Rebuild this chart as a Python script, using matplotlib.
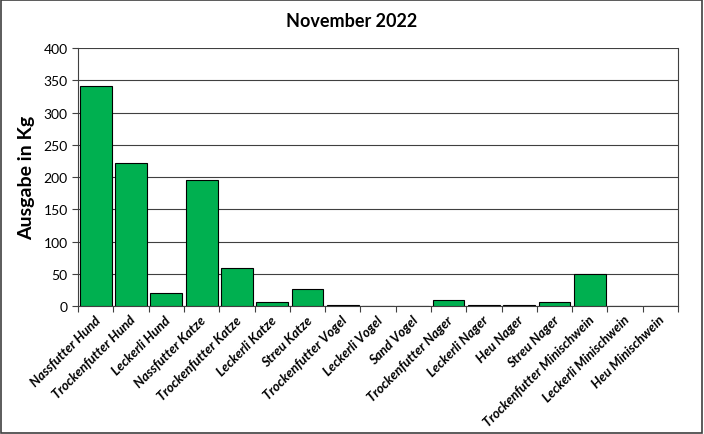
import numpy as np
import matplotlib.pyplot as plt

categories = ['Nassfutter Hund', 'Trockenfutter Hund', 'Leckerli Hund', 'Nassfutter Katze',
              'Trockenfutter Katze', 'Leckerli Katze', 'Streu Katze', 'Trockenfutter Vogel',
              'Leckerli Vogel', 'Sand Vogel', 'Trockenfutter Nager', 'Leckerli Nager',
              'Heu Nager', 'Streu Nager', 'Trockenfutter Minischwein', 'Leckerli Minischwein',
              'Heu Minischwein']
values = [341, 222, 21, 195, 59, 7, 27, 1, 0, 0, 9, 1, 1, 6, 50, 0, 0]
yticks = [0, 50, 100, 150, 200, 250, 300, 350, 400]

plt.rcParams['font.family'] = ['Lato', 'DejaVu Sans']

fig = plt.figure(figsize=(7.04, 4.35), dpi=100)
ax = fig.add_axes([0.111, 0.294, 0.852, 0.593])

x = np.arange(len(categories))
ax.bar(x, values, width=0.9, color='#00B050', edgecolor='black', linewidth=0.8, zorder=3)

ax.set_xlim(-0.5, len(categories) - 0.5)
ax.set_ylim(0, 400)
ax.set_yticks(yticks)
ax.tick_params(axis='y', labelsize=10, length=4, direction='out', color='#404040')
ax.yaxis.grid(True, color='#404040', linewidth=0.8, zorder=0)

ax.set_xticks(np.arange(-0.5, len(categories), 1.0))
ax.set_xticklabels([])
ax.tick_params(axis='x', length=4, direction='out', color='#404040')
for i, c in enumerate(categories):
    ax.text(i - 0.05, -11, c, rotation=45, ha='right', va='top', fontsize=9.5,
            fontweight='bold', fontstyle='italic', rotation_mode='anchor')

for s in ['left', 'bottom', 'right']:
    ax.spines[s].set_color('#404040')
ax.spines['top'].set_visible(False)

ax.set_ylabel('Ausgabe in Kg', fontsize=14, fontweight='bold', labelpad=6)
fig.text(0.5, 0.95, 'November 2022', ha='center', va='center', fontsize=13, fontweight='bold')

fig.patches.append(plt.Rectangle((0.002, 0.003), 0.995, 0.994, transform=fig.transFigure,
                                 fill=False, edgecolor='#404040', linewidth=1.2))

fig.savefig('out.png', dpi=100)
